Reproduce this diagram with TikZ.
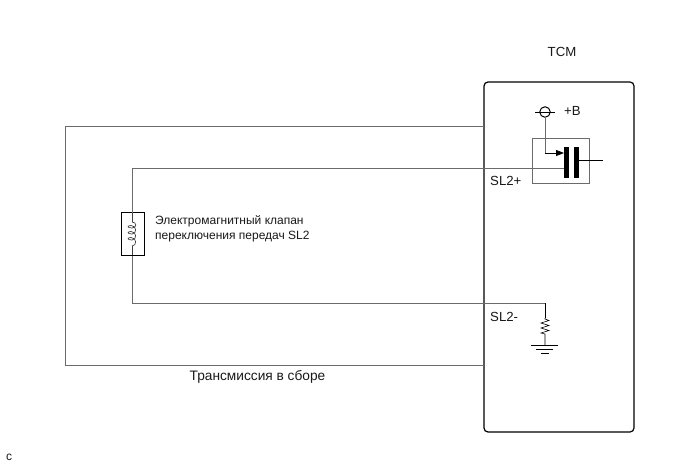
\documentclass[tikz,border=0pt]{standalone}
\usepackage{fontspec}
\setmainfont{Liberation Sans}
\usetikzlibrary{arrows.meta,decorations.pathmorphing}
\tikzset{
  wire/.style={draw=black!58,line width=1pt},
  blk/.style={draw=black,line width=0.8pt},
  lab/.style={font=\fontsize{12}{14}\selectfont,inner sep=0pt,text=black!90},
  labb/.style={font=\fontsize{13.2}{15}\selectfont,inner sep=0pt,text=black!90},
  labl/.style={lab,anchor=west},
  lablb/.style={labb,anchor=west},
  bar/.style={fill=black,draw=none},
}
\begin{document}
\begin{tikzpicture}[x=1pt,y=-1pt]
\useasboundingbox (0,0) rectangle (690,465);
\fill[white] (0,0) rectangle (690,465);
% TCM box
\node[draw=black,line width=1.2pt,rounded corners=4pt,minimum width=150pt,minimum height=350pt,inner sep=0pt,outer sep=0pt] (tcm) at (559,257) {};
\node[labb] (tcmlab) at (562,52) {TCM};
% Transmission frame
\coordinate (ft) at (484,127);
\coordinate (fb) at (484,365);
\draw[wire] (ft) -- (65,127) -- (65,365) -- (fb);
\node[font=\fontsize{13.7}{15}\selectfont,inner sep=0pt,text=black!90] (trans) at (257.5,377) {Трансмиссия в сборе};
% Inner switch box
\node[draw=black!58,line width=1pt,minimum width=57pt,minimum height=45pt,inner sep=0pt,outer sep=0pt] (sw) at (560.5,161) {};
\node[bar,minimum width=5pt,minimum height=31pt,inner sep=0pt,outer sep=0pt] (b1) at (566.5,162.5) {};
\node[bar,minimum width=5pt,minimum height=31pt,inner sep=0pt,outer sep=0pt] (b2) at (576.5,162.5) {};
\coordinate (out) at (603,160);
\draw[blk] (b2.east |- out) -- (out);
% +B terminal
\node[circle,draw=black,line width=1pt,minimum size=10.5pt,inner sep=0pt,outer sep=0pt] (bat) at (545,112) {};
\draw[blk] (535,112) -- (555,112);
\node[lablb] (plusb) at (564,111) {+B};
\draw[wire] (bat.south) -- (545,153);
\draw[blk,-{Triangle[length=8pt,width=6pt]}] (545,153) -- (b1.west |- 0,153);
% Solenoid
\node[draw=black,line width=1.5pt,minimum width=23pt,minimum height=43pt,inner sep=0pt,outer sep=0pt] (sol) at (133,234) {};
\draw[wire] (b1.west |- 0,169) -- (132,169) -- (132,212.5);
\coordinate (rt) at (545,318);
\draw[wire] (132,255.5) -- (132,303) -- (545,303);
\draw[blk,line width=0.6pt] (545,303) -- (rt);
\draw[black!75,line width=0.7pt] (132,213) -- (132,222) (132,246) -- (132,255);
\draw[black!75,line width=0.7pt] (132,222) .. controls (137,222) and (137,228) .. (132,228)
  .. controls (127,228) and (127,225.5) .. (131,225.5)
  .. controls (137,225.5) and (137,234) .. (132,234)
  .. controls (127,234) and (127,231.5) .. (131,231.5)
  .. controls (137,231.5) and (137,240) .. (132,240)
  .. controls (127,240) and (127,237.5) .. (131,237.5)
  .. controls (137,237.5) and (137,246) .. (132,246);
\node[labl] (sollab1) at (155,221) {Электромагнитный клапан};
\node[labl] (sollab2) at (155,237) {переключения передач SL2};
% Resistor and ground
\draw[blk,line width=0.6pt] (rt) -- (545,319) -- (549,320.5) -- (541,323) -- (549,325.5) -- (541,328) -- (549,330.5) -- (541,333) -- (545,334) -- (545,345.5);
\draw[blk] (531,345.5) -- (558,345.5);
\draw[blk,line width=0.6pt] (536,349.5) -- (553,349.5);
\draw[blk,line width=0.6pt] (541,353.5) -- (549,353.5);
% pin labels
\node[lablb] (sl2p) at (490,181) {SL2+};
\node[lablb] (sl2m) at (490,317) {SL2-};
\node[labl] (c) at (6,457) {c};
\end{tikzpicture}
\end{document}
